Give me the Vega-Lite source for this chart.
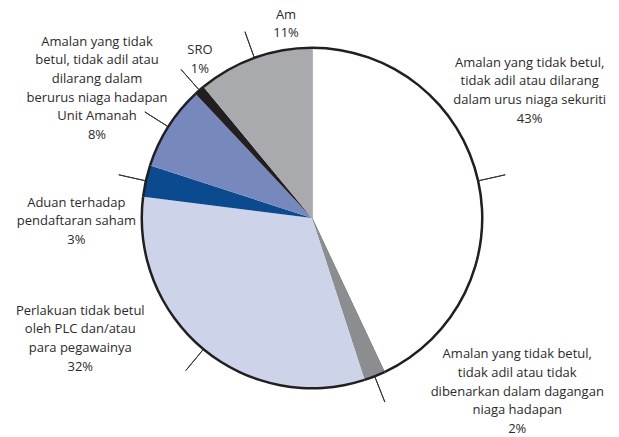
{
  "$schema": "https://vega.github.io/schema/vega-lite/v6.json",
  "width": 614,
  "height": 436,
  "autosize": {"type": "none"},
  "padding": {"left": 5, "top": 0, "right": 0, "bottom": 1},
  "background": "white",
  "config": {"view": {"stroke": null}, "text": {"font": "Open Sans", "fontSize": 13, "color": "#2b2b2b"}},
  "data": {
    "values": [
      {"key": "a", "pct": 43, "label": "Amalan yang tidak betul,\ntidak adil atau dilarang\ndalam urus niaga sekuriti\n43%"},
      {"key": "b", "pct": 2, "label": "Amalan yang tidak betul,\ntidak adil atau tidak\ndibenarkan dalam dagangan\nniaga hadapan\n2%"},
      {"key": "c", "pct": 32, "label": "Perlakuan tidak betul\noleh PLC dan/atau\npara pegawainya\n32%"},
      {"key": "d", "pct": 3, "label": "Aduan terhadap\npendaftaran saham\n3%"},
      {"key": "e", "pct": 8, "label": "Amalan yang tidak\nbetul, tidak adil atau\ndilarang dalam\nberurus niaga hadapan\nUnit Amanah\n8%"},
      {"key": "f", "pct": 1, "label": "SRO\n1%"},
      {"key": "g", "pct": 11, "label": "Am\n11%"}
    ]
  },
  "encoding": {
    "theta": {"field": "pct", "type": "quantitative", "stack": true, "scale": {"domain": [0, 100]}},
    "order": {"field": "key", "type": "ordinal", "sort": "ascending"},
    "detail": {"field": "key", "type": "nominal"}
  },
  "layer": [
    {
      "mark": {"type": "arc", "radius": 170, "strokeWidth": 0.8},
      "encoding": {
        "color": {"field": "key", "type": "nominal", "legend": null,
          "scale": {"domain": ["a", "b", "c", "d", "e", "f", "g"],
                    "range": ["#ffffff", "#8b8d90", "#cdd3e8", "#0b4a8e", "#7788bd", "#231f20", "#a9aaad"]}},
        "stroke": {"condition": {"test": "datum.key === 'a'", "value": "#444444"}, "value": null}
      }
    },
    {
      "mark": {"type": "arc", "radius": 171.5, "radius2": 169, "fill": "#231f20"}
    },
    {
      "mark": {"type": "arc", "radius": 198, "radius2": 171, "padAngle": 3, "fill": "transparent", "stroke": "#333333", "strokeWidth": 1}
    },
    {
      "mark": {"type": "text", "radius": 180, "dx": 42, "dy": -116, "lineBreak": "\n", "lineHeight": 18.7, "align": "center", "baseline": "middle"},
      "encoding": {"text": {"field": "label"}, "opacity": {"condition": {"test": "datum.key === 'a'", "value": 1}, "value": 0}}
    },
    {
      "mark": {"type": "text", "radius": 180, "dx": 139, "dy": -31, "lineBreak": "\n", "lineHeight": 18.6, "align": "center", "baseline": "middle"},
      "encoding": {"text": {"field": "label"}, "opacity": {"condition": {"test": "datum.key === 'b'", "value": 1}, "value": 0}}
    },
    {
      "mark": {"type": "text", "radius": 180, "dx": -117, "dy": -46, "lineBreak": "\n", "lineHeight": 18.7, "align": "center", "baseline": "middle"},
      "encoding": {"text": {"field": "label"}, "opacity": {"condition": {"test": "datum.key === 'c'", "value": 1}, "value": 0}}
    },
    {
      "mark": {"type": "text", "radius": 180, "dx": -60, "dy": 24, "lineBreak": "\n", "lineHeight": 18.7, "align": "center", "baseline": "middle"},
      "encoding": {"text": {"field": "label"}, "opacity": {"condition": {"test": "datum.key === 'd'", "value": 1}, "value": 0}}
    },
    {
      "mark": {"type": "text", "radius": 180, "dx": -63, "dy": -80, "lineBreak": "\n", "lineHeight": 18.7, "align": "center", "baseline": "middle"},
      "encoding": {"text": {"field": "label"}, "opacity": {"condition": {"test": "datum.key === 'e'", "value": 1}, "value": 0}}
    },
    {
      "mark": {"type": "text", "radius": 180, "dx": 7, "dy": -33, "lineBreak": "\n", "lineHeight": 18.7, "align": "center", "baseline": "middle"},
      "encoding": {"text": {"field": "label"}, "opacity": {"condition": {"test": "datum.key === 'f'", "value": 1}, "value": 0}}
    },
    {
      "mark": {"type": "text", "radius": 180, "dx": 35, "dy": -34, "lineBreak": "\n", "lineHeight": 18.7, "align": "center", "baseline": "middle"},
      "encoding": {"text": {"field": "label"}, "opacity": {"condition": {"test": "datum.key === 'g'", "value": 1}, "value": 0}}
    }
  ]
}
